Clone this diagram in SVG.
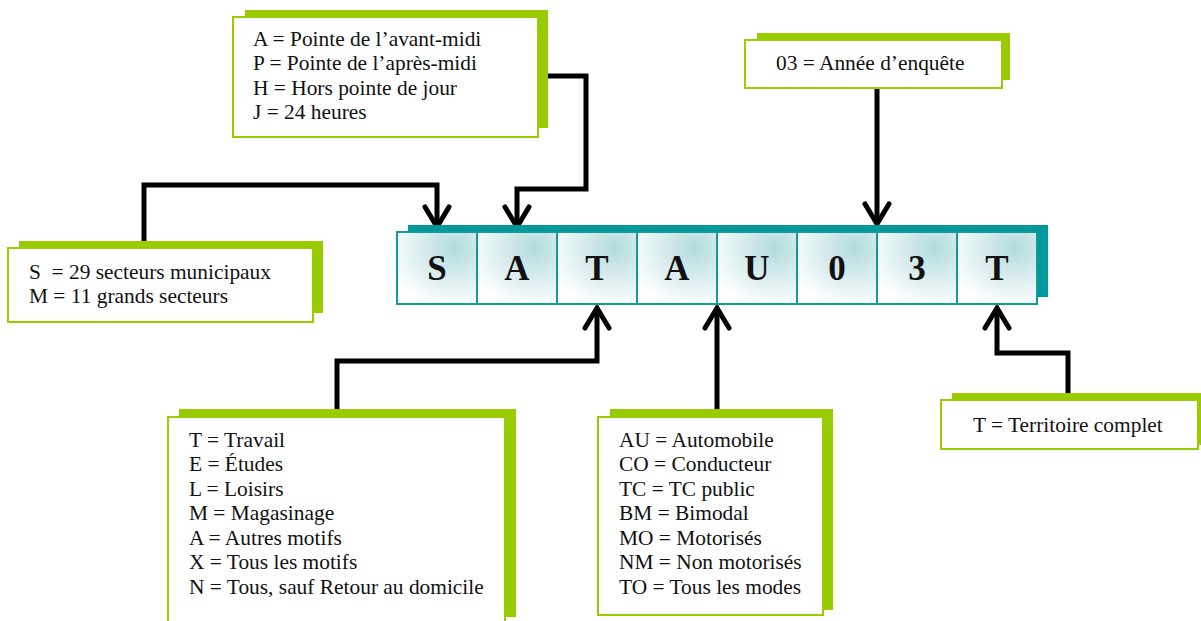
<svg xmlns="http://www.w3.org/2000/svg" width="1201" height="621" viewBox="0 0 1201 621">
<style>
.shadow{fill:#99cc00}
.box{fill:#ffffff;stroke:#99cc00;stroke-width:2}
.tshadow{fill:#009999}
.cell{fill:url(#cg);stroke:#119c9c;stroke-width:2}
.t{font-family:"Liberation Serif","Times New Roman",serif;font-size:21.4px;fill:#111;white-space:pre}
.c{font-family:"Liberation Serif","Times New Roman",serif;font-size:35px;font-weight:bold;fill:#111;text-anchor:middle}
.ln{fill:none;stroke:#000;stroke-width:5;stroke-linejoin:miter;stroke-linecap:butt}
.ah{fill:none;stroke:#000;stroke-width:5;stroke-linejoin:miter;stroke-linecap:round}
</style>
<defs>
<radialGradient id="cg" cx="0.72" cy="0.22" r="0.85">
<stop offset="0" stop-color="#b4dbde"/>
<stop offset="1" stop-color="#ffffff"/>
</radialGradient>
</defs>
<rect width="1201" height="621" fill="#ffffff"/>

<g id="connectors">
<polyline class="ln" points="144,241 144,185 437,185 437,224"/>
<polyline class="ah" points="425,207 437,227 449,207"/>
<polyline class="ln" points="548,76 586,76 586,189 517,189 517,224"/>
<polyline class="ah" points="505,207 517,227 529,207"/>
<polyline class="ln" points="877,88 877,222"/>
<polyline class="ah" points="865,204 877,224 889,204"/>
<polyline class="ln" points="337,409 337,361 597,361 597,312"/>
<polyline class="ah" points="585,328 597,308 609,328"/>
<polyline class="ln" points="717,409 717,312"/>
<polyline class="ah" points="705,328 717,308 729,328"/>
<polyline class="ln" points="1068,393 1068,353 997,353 997,312"/>
<polyline class="ah" points="985,328 997,308 1009,328"/>
</g>

<g id="code">
<rect class="tshadow" x="408" y="225" width="640" height="72"/>
<rect class="cell" x="397" y="232" width="80" height="72"/>
<rect class="cell" x="477" y="232" width="80" height="72"/>
<rect class="cell" x="557" y="232" width="80" height="72"/>
<rect class="cell" x="637" y="232" width="80" height="72"/>
<rect class="cell" x="717" y="232" width="80" height="72"/>
<rect class="cell" x="797" y="232" width="80" height="72"/>
<rect class="cell" x="877" y="232" width="80" height="72"/>
<rect class="cell" x="957" y="232" width="80" height="72"/>
<text class="c" x="437" y="280">S</text>
<text class="c" x="517" y="280">A</text>
<text class="c" x="597" y="280">T</text>
<text class="c" x="677" y="280">A</text>
<text class="c" x="757" y="280">U</text>
<text class="c" x="837" y="280">0</text>
<text class="c" x="917" y="280">3</text>
<text class="c" x="997" y="280">T</text>
</g>

<g id="periode">
<rect class="shadow" x="245" y="10" width="303" height="118"/>
<rect class="box" x="233" y="17" width="305" height="120"/>
<text class="t" x="253" y="46">A = Pointe de l’avant-midi</text>
<text class="t" x="253" y="70">P = Pointe de l’après-midi</text>
<text class="t" x="253" y="95">H = Hors pointe de jour</text>
<text class="t" x="253" y="119">J = 24 heures</text>
</g>

<g id="annee">
<rect class="shadow" x="757" y="33" width="253" height="47"/>
<rect class="box" x="745" y="40" width="257" height="48"/>
<text class="t" x="776" y="70">03 = Année d’enquête</text>
</g>

<g id="secteurs">
<rect class="shadow" x="19" y="241" width="304" height="72"/>
<rect class="box" x="8" y="248" width="305" height="74"/>
<text class="t" x="29" y="279">S  = 29 secteurs municipaux</text>
<text class="t" x="29" y="303">M = 11 grands secteurs</text>
</g>

<g id="motifs">
<rect class="shadow" x="179" y="409" width="337" height="208"/>
<rect class="box" x="168" y="417" width="337" height="212"/>
<text class="t" x="189" y="447">T = Travail</text>
<text class="t" x="189" y="471">E = Études</text>
<text class="t" x="189" y="496">L = Loisirs</text>
<text class="t" x="189" y="520">M = Magasinage</text>
<text class="t" x="189" y="545">A = Autres motifs</text>
<text class="t" x="189" y="569">X = Tous les motifs</text>
<text class="t" x="189" y="594">N = Tous, sauf Retour au domicile</text>
</g>

<g id="modes">
<rect class="shadow" x="610" y="409" width="223" height="201"/>
<rect class="box" x="598" y="417" width="225" height="198"/>
<text class="t" x="619" y="447">AU = Automobile</text>
<text class="t" x="619" y="471">CO = Conducteur</text>
<text class="t" x="619" y="496">TC = TC public</text>
<text class="t" x="619" y="520">BM = Bimodal</text>
<text class="t" x="619" y="545">MO = Motorisés</text>
<text class="t" x="619" y="569">NM = Non motorisés</text>
<text class="t" x="619" y="594">TO = Tous les modes</text>
</g>

<g id="territoire">
<rect class="shadow" x="952" y="393" width="249" height="52"/>
<rect class="box" x="941" y="400" width="257" height="49"/>
<text class="t" x="973" y="432">T = Territoire complet</text>
</g>
</svg>
